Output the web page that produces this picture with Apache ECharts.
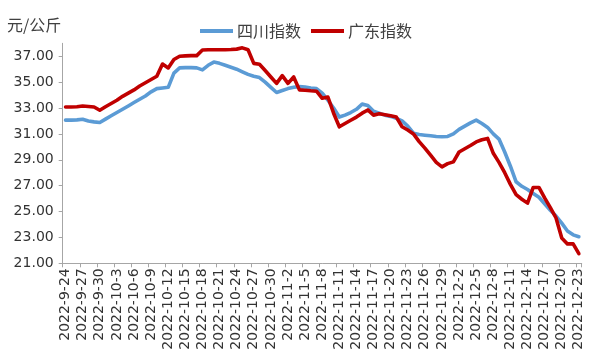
<!DOCTYPE html>
<html>
<head>
<meta charset="utf-8">
<script src="https://cdn.jsdelivr.net/npm/echarts@6/dist/echarts.min.js"></script>
<style>html,body{margin:0;padding:0;background:#fff}#c{width:601px;height:360px}</style>
</head>
<body>
<div id="c"></div>
<script>
var categories = [
"2022-9-24","2022-9-25","2022-9-26","2022-9-27","2022-9-28","2022-9-29","2022-9-30",
"2022-10-1","2022-10-2","2022-10-3","2022-10-4","2022-10-5","2022-10-6","2022-10-7","2022-10-8","2022-10-9","2022-10-10",
"2022-10-11","2022-10-12","2022-10-13","2022-10-14","2022-10-15","2022-10-16","2022-10-17","2022-10-18","2022-10-19","2022-10-20",
"2022-10-21","2022-10-22","2022-10-23","2022-10-24","2022-10-25","2022-10-26","2022-10-27","2022-10-28","2022-10-29","2022-10-30","2022-10-31",
"2022-11-1","2022-11-2","2022-11-3","2022-11-4","2022-11-5","2022-11-6","2022-11-7","2022-11-8","2022-11-9","2022-11-10",
"2022-11-11","2022-11-12","2022-11-13","2022-11-14","2022-11-15","2022-11-16","2022-11-17","2022-11-18","2022-11-19","2022-11-20",
"2022-11-21","2022-11-22","2022-11-23","2022-11-24","2022-11-25","2022-11-26","2022-11-27","2022-11-28","2022-11-29","2022-11-30",
"2022-12-1","2022-12-2","2022-12-3","2022-12-4","2022-12-5","2022-12-6","2022-12-7","2022-12-8","2022-12-9","2022-12-10",
"2022-12-11","2022-12-12","2022-12-13","2022-12-14","2022-12-15","2022-12-16","2022-12-17","2022-12-18","2022-12-19","2022-12-20",
"2022-12-21","2022-12-22","2022-12-23"
];
var sichuan = [
32.06,32.06,32.08,32.13,32.0,31.93,31.88,32.14,32.4,32.65,
32.9,33.16,33.42,33.68,33.93,34.25,34.5,34.55,34.6,35.7,
36.1,36.12,36.12,36.1,35.95,36.3,36.55,36.45,36.3,36.15,
36.0,35.8,35.6,35.45,35.35,35.0,34.6,34.2,34.35,34.5,
34.6,34.65,34.62,34.55,34.5,34.15,33.6,33.0,32.3,32.45,
32.65,32.9,33.3,33.2,32.75,32.6,32.45,32.35,32.2,32.0,
31.6,31.05,30.95,30.9,30.85,30.8,30.78,30.8,31.0,31.35,
31.6,31.85,32.06,31.8,31.5,31.0,30.6,29.6,28.5,27.3,
26.95,26.7,26.4,26.1,25.6,25.1,24.65,24.1,23.5,23.2,
23.05
];
var guangdong = [
33.08,33.08,33.1,33.16,33.12,33.08,32.83,33.1,33.35,33.6,
33.9,34.15,34.4,34.7,34.95,35.2,35.45,36.4,36.1,36.75,
37.0,37.03,37.05,37.05,37.48,37.5,37.5,37.5,37.5,37.52,
37.55,37.65,37.5,36.45,36.38,35.9,35.4,34.9,35.5,34.9,
35.4,34.4,34.37,34.33,34.3,33.75,33.85,32.6,31.55,31.8,
32.05,32.3,32.6,32.85,32.45,32.55,32.48,32.4,32.3,31.55,
31.3,31.0,30.4,29.9,29.35,28.8,28.45,28.7,28.84,29.6,
29.85,30.1,30.38,30.55,30.65,29.5,28.8,28.0,27.1,26.3,
25.95,25.65,26.86,26.86,26.05,25.3,24.5,22.95,22.5,22.5,
21.75
];
var yTicks = [21, 23, 25, 27, 29, 31, 33, 35, 37];
var seriesNames = ["四川指数", "广东指数"];
var unitLabel = "元/公斤";

var chart = echarts.init(document.getElementById('c'), null, {renderer: 'canvas'});
chart.setOption({
  animation: false,
  backgroundColor: '#fff',
  color: ['#5B9BD5', '#C00000'],
  grid: {left: 62.7, right: 19.3, top: 43.3, bottom: 96.7, containLabel: false, outerBoundsMode: 'none'},
  legend: {
    left: 195, top: 18, itemGap: 10, itemWidth: 33, itemHeight: 4, icon: 'rect',
    textStyle: {fontFamily: 'Noto Sans CJK SC', fontSize: 16, color: '#404040', lineHeight: 16, padding: [0,0,0,-1]},
    data: seriesNames
  },
  graphic: [{
    type: 'text', left: 7, top: 17,
    style: {text: unitLabel, fontFamily: 'Noto Sans CJK SC', fontSize: 16, fill: '#404040'}
  }],
  xAxis: {
    type: 'category', data: categories, boundaryGap: true,
    axisLine: {lineStyle: {color: '#A6A6A6', width: 1}},
    axisTick: {show: true, interval: 2, length: 4, lineStyle: {color: '#A6A6A6'}},
    axisLabel: {interval: 2, rotate: 90, margin: 5, fontFamily: 'DejaVu Sans', fontSize: 14, color: '#333'},
    splitLine: {show: false}
  },
  yAxis: {
    type: 'value', min: 21, max: 38, interval: 2,
    axisLine: {show: true, lineStyle: {color: '#A6A6A6', width: 1}},
    axisTick: {show: true, length: 4, customValues: yTicks, lineStyle: {color: '#A6A6A6'}},
    axisLabel: {customValues: yTicks, margin: 9, fontFamily: 'DejaVu Sans', fontSize: 14, color: '#333',
      formatter: function (v) { return v.toFixed(2); }},
    splitLine: {show: false}
  },
  series: [
    {name: seriesNames[0], type: 'line', data: sichuan, symbol: 'none', smooth: false,
     lineStyle: {width: 3.6, color: '#5B9BD5', cap: 'round', join: 'round'}, itemStyle: {color: '#5B9BD5'}},
    {name: seriesNames[1], type: 'line', data: guangdong, symbol: 'none', smooth: false,
     lineStyle: {width: 3.6, color: '#C00000', cap: 'round', join: 'round'}, itemStyle: {color: '#C00000'}}
  ]
});
</script>
</body>
</html>
